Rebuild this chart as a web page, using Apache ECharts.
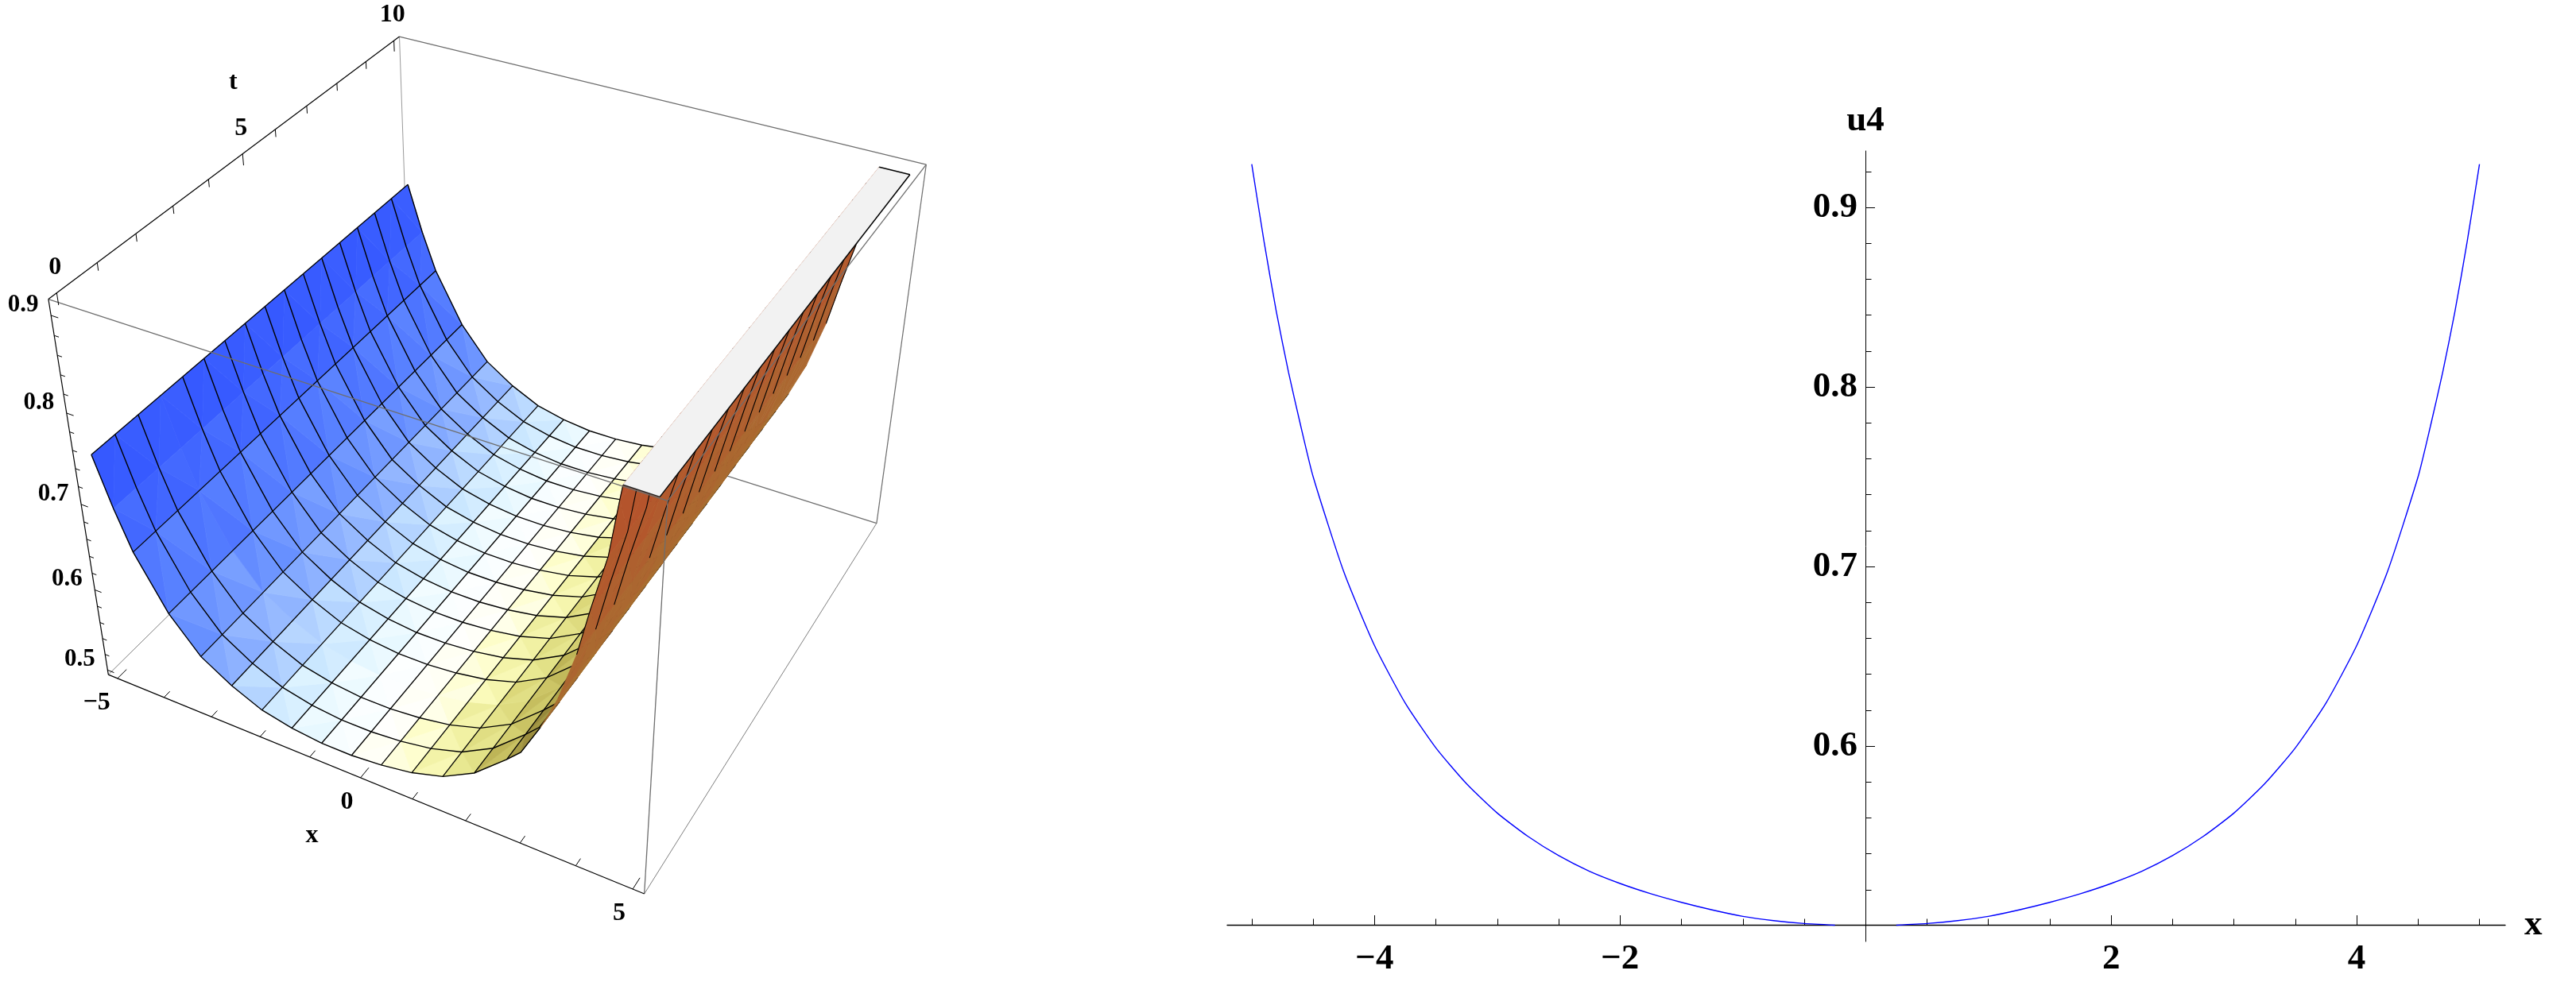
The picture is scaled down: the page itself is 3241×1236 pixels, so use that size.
<!DOCTYPE html>
<html><head><meta charset="utf-8"><style>html,body{margin:0;background:#fff}#c{width:3241px;height:1236px}</style>
<script src="https://cdn.jsdelivr.net/npm/echarts@6/dist/echarts.min.js"></script></head><body><div id="c"></div>
<script>
// ---------- right panel data: u4(x) ----------
const curveX = [-5,-4.9,-4.8,-4.7,-4.6,-4.5,-4.25,-4,-3.75,-3.5,-3.25,-3,-2.75,-2.5,-2.25,-2,-1.75,-1.5,-1.25,-1,-0.75,-0.5,-0.25,null,0.25,0.5,0.75,1,1.25,1.5,1.75,2,2.25,2.5,2.75,3,3.25,3.5,3.75,4,4.25,4.5,4.6,4.7,4.8,4.9,5];
const curveU = [0.924,0.881,0.842,0.808,0.778,0.75,0.697,0.656,0.624,0.599,0.579,0.5627,0.5497,0.539,0.5303,0.5235,0.5178,0.513,0.5088,0.5052,0.5028,0.5012,0.5003,null,0.5003,0.5012,0.5028,0.5052,0.5088,0.513,0.5178,0.5235,0.5303,0.539,0.5497,0.5627,0.579,0.599,0.624,0.656,0.697,0.75,0.778,0.808,0.842,0.881,0.924];
const xMajorTicks = [-4,-2,2,4];
const xMinorTicks = [-5,-4.5,-3.5,-3,-2.5,-1.5,-1,-0.5,0.5,1,1.5,2.5,3,3.5,4.5,5];
const yMajorTicks = [0.6,0.7,0.8,0.9];
const yMinorTicks = [0.52,0.54,0.56,0.58,0.62,0.64,0.66,0.68,0.72,0.74,0.76,0.78,0.82,0.84,0.86,0.88,0.92];

// ---------- left panel data: surface u(x,t), same section at every t ----------
const sectionX = [-5,-4.7,-4.41,-3.82,-3.24,-2.65,-2.06,-1.47,-0.88,-0.29,0.29,0.88,1.47,2.06,2.65,2.9,3.24,3.53,3.82,4.02,4.27,4.41,4.45];
const sectionU = [0.752,0.698,0.654,0.594,0.555,0.533,0.517,0.509,0.505,0.505,0.508,0.514,0.525,0.545,0.577,0.592,0.630,0.670,0.725,0.777,0.836,0.893,0.908];
const meshXFlags = [0,0,1,1,1,1,1,1,1,1,1,1,1,1,1,0,1,0,1,0,0,1,0];
const gridT = [0,0.625,1.25,1.875,2.5,3.125,3.75,4.375,5,5.625,6.25,6.875,7.5,8.125,8.75,9.375,10];
const meshT = [0,0.625,1.25,2.5,3.125,3.75,4.375,5,5.625,6.25,6.875,7.5,8.125,8.75,9.375,10];
const capU = 0.908, capX = [4.45,5];
const frontFaceColors = ['#3558ff','#3c60ff','#4a70ff','#5f88ff','#7ea4ff','#a2c4ff','#c6e4ff','#e2f6ff','#f6fdff','#ffffff','#fffff0','#fdfdc0','#ebeb96','#d8d474','#b8ae50','#8f8036','#8f8036','#8f8036','#8f8036','#8f8036','#8f8036','#8f8036'];
const backFaceColors = ['#b5552c','#b5552c','#b5552c','#b5552c','#b5552c','#b5552c','#b5552c','#b5552c','#b5552c','#b5552c','#b5552c','#b5552c','#b5552c','#a0702c','#a0702c','#a4742e','#a87030','#aa6a30','#ac6430','#b05c2e','#b4562c','#b5522c'];
const boxX=[-5.2,5.2], boxT=[-0.2,10.2], boxU=[0.494,0.916];
const zTicks=[0.5,0.52,0.54,0.56,0.58,0.6,0.62,0.64,0.66,0.68,0.7,0.72,0.74,0.76,0.78,0.8,0.82,0.84,0.86,0.88,0.9];
const zLabels=[0.5,0.6,0.7,0.8,0.9];
const xTicks3d=[-5,-4,-3,-2,-1,0,1,2,3,4,5], xLabels3d=[-5,0,5];
const tTicks3d=[0,1,2,3,4,5,6,7,8,9,10], tLabels3d=[0,5,10];
// camera calibration: screen position of the eight box corners
const cornerPx=[[62,377],[840,630],[501,46],[1166,207],[135,849],[811,1125],[519,473],[1102,659]];

// ---------- projective camera fitted to the box ----------
function solve(A,b){const n=b.length;A=A.map((r,i)=>[...r,b[i]]);for(let i=0;i<n;i++){let p=i;for(let j=i+1;j<n;j++)if(Math.abs(A[j][i])>Math.abs(A[p][i]))p=j;[A[i],A[p]]=[A[p],A[i]];for(let j=0;j<n;j++)if(j!=i){const f=A[j][i]/A[i][i];for(let k=i;k<=n;k++)A[j][k]-=f*A[i][k];}}return A.map((r,i)=>r[n]/r[i]);}
const nrm=(x,t,u)=>[x/5,t/5-1,(u-.7)/.2];
const cam=(function(){const R=[],Y=[];let i=0;
 for(const u of [boxU[1],boxU[0]])for(const t of [boxT[0],boxT[1]])for(const x of [boxX[0],boxX[1]]){const [a,b,c]=nrm(x,t,u),[p,q]=cornerPx[i++];
  R.push([a,b,c,1,0,0,0,0,-p*a,-p*b,-p*c]);Y.push(p);R.push([0,0,0,0,a,b,c,1,-q*a,-q*b,-q*c]);Y.push(q);}
 const T=R[0].map((_,i)=>R.map(r=>r[i]));return solve(T.map(a=>T.map(b=>a.reduce((s,v,i)=>s+v*b[i],0))),T.map(a=>a.reduce((s,v,i)=>s+v*Y[i],0)));})();
function proj(x,t,u){const [a,b,c]=nrm(x,t,u),m=cam,w=m[8]*a+m[9]*b+m[10]*c+1;return[(m[0]*a+m[1]*b+m[2]*c+m[3])/w,(m[4]*a+m[5]*b+m[6]*c+m[7])/w];}

// ---------- primitives for the custom series ----------
const prims=[];
const line=(pts,color,width)=>prims.push({k:'l',pts,color,width});
const poly=(pts,color)=>prims.push({k:'p',pts,color});
const text=(anchor,dx,dy,s,size,align)=>prims.push({k:'t',anchor,dx,dy,s,size,align:align||'center'});
const mix=(a,b,f)=>{const h=c=>[1,3,5].map(i=>parseInt(c.substr(i,2),16));const A=h(a),B=h(b);return 'rgb('+A.map((v,i)=>Math.round(v+(B[i]-v)*f)).join(',')+')';};
const [X0,X1]=boxX,[T0,T1]=boxT,[U0,U1]=boxU;
const GREY='#6e6e6e';
// back edges of the box
line([[X0,T1,U1],[X0,T1,U0]],'#9a9a9a',1);
line([[X0,T0,U0],[X0,T1,U0]],'#808080',1);
line([[X0,T1,U0],[X1,T1,U0]],GREY,1.2);
line([[X1,T0,U0],[X1,T1,U0]],'#808080',1);
line([[X1,T1,U1],[X1,T1,U0]],GREY,1.2);
// surface faces
function cell(i,j){return [[sectionX[i],gridT[j],sectionU[i]],[sectionX[i+1],gridT[j],sectionU[i+1]],[sectionX[i+1],gridT[j+1],sectionU[i+1]],[sectionX[i],gridT[j+1],sectionU[i]]];}
const area=p=>{let s=0;p.forEach((a,i)=>{const A=proj(...a),B=proj(...p[(i+1)%p.length]);s+=A[0]*B[1]-B[0]*A[1];});return s;};
const isBack=sectionX.slice(0,-1).map((_,i)=>area(cell(i,8))>0);
function faces(back){
 for(let i=0;i<sectionX.length-1;i++){ if(isBack[i]!==back) continue;
  const c=back?backFaceColors:frontFaceColors, a=c[i], b=c[Math.min(i+1,c.length-1)];
  for(let j=0;j<gridT.length-1;j++){const q=cell(i,j);
   const f=((i*3+j*5)%4)*0.12;
   const odd=(i+j)%2;
   poly(odd?[q[0],q[1],q[2]]:[q[0],q[1],q[3]],mix(a,b,.15+f));
   poly(odd?[q[0],q[2],q[3]]:[q[1],q[2],q[3]],mix(a,b,.45+f));
  }
 }
 // mesh: section curves (on the outer face only their upper part shows through)
 const from=back?sectionX.indexOf(3.82):0;
 meshT.forEach(t=>{let seg=[];for(let i=from;i<sectionX.length;i++){const inside=(i<sectionX.length-1&&isBack[i]===back)||(i>0&&isBack[i-1]===back);
   if(inside)seg.push([sectionX[i],t,sectionU[i]]);else{if(seg.length>1)line(seg,'#000',back?1.1:1.4);seg=[];}}
  if(seg.length>1)line(seg,'#000',back?1.1:1.4);});
 // mesh: lines along t, and the edge at x=-5
 if(!back) sectionX.forEach((x,i)=>{ if((meshXFlags[i]||i===0)&&i<sectionX.length-1&&!isBack[i]) line([[x,gridT[0],sectionU[i]],[x,gridT[gridT.length-1],sectionU[i]]],'#000',1.3);});
}
faces(false);
faces(true);
// clipped cap of the surface
const capA=[capX[0],gridT[0],capU],capB=[capX[1],gridT[0],capU],capC=[capX[1],10,capU],capD=[capX[0],10,capU];
poly([capA,capB,capC,capD],'#f2f2f2');
line([capA,capB],'#222',1.5);line([capB,capC],'#000',1.5);line([capC,capD],'#000',1.5);
// front edges of the box
line([[X0,T0,U1],[X1,T0,U1]],GREY,1.3);
line([[X1,T0,U1],[X1,T1,U1]],GREY,1.3);
line([[X1,T0,U1],[X1,T0,U0]],GREY,1.3);
line([[X0,T1,U1],[X1,T1,U1]],GREY,1.3);
line([[X0,T0,U1],[X0,T1,U1]],'#000',1.2);
line([[X0,T0,U1],[X0,T0,U0]],'#000',1.2);
line([[X0,T0,U0],[X1,T0,U0]],'#000',1.2);
// ticks and labels
const near=(a,b)=>Math.abs(a-b)<1e-6;
zTicks.forEach(u=>{const M=zLabels.some(v=>near(v,u));line([[X0,T0,u],[X0+(M?0.14:0.09),T0,u]],'#000',1);});
xTicks3d.forEach(x=>{const M=xLabels3d.includes(x);line([[x,T0,U0],[x,T0+(M?0.26:0.17),U0]],'#000',1);});
tTicks3d.forEach(t=>{const M=tLabels3d.includes(t);line([[X0,t,U1],[X0,t,U1-(M?0.012:0.008)]],'#000',1);});
zLabels.forEach(u=>text([X0,T0,u],-35,-13,u.toFixed(1),31));
xLabels3d.forEach(x=>text([x,T0,U0],-9,31,String(x).replace('-','\u2212'),32,'right'));
tLabels3d.forEach(t=>text([X0,t,U1],-2,-32,String(t),32));
text([X0,5,U1],-12,-90,'t',32);
text([0,T0,U0],-61,73,'x',32);

const SERIF='"Liberation Serif","Times New Roman",serif';
const chart=echarts.init(document.getElementById('c'),null,{renderer:'canvas'});
const labelStyle={fontFamily:SERIF,fontWeight:'bold',fontSize:45,color:'#000'};
const pairs=curveX.map((x,i)=>x===null?[null,null]:[x,curveU[i]]);
chart.setOption({
 animation:false,backgroundColor:'#fff',
 grid:[{left:1544,top:190,width:1608,height:995,containLabel:false},{left:0,top:0,right:0,bottom:0}],
 xAxis:[
  {type:'value',gridIndex:0,min:-5.2,max:5.21,position:'bottom',offset:-21,splitLine:{show:false},
   axisLine:{show:true,onZero:false,lineStyle:{color:'#000',width:1.3}},
   axisTick:{show:true,inside:true,length:12,customValues:xMajorTicks,lineStyle:{color:'#000',width:1}},
   axisLabel:{show:true,margin:21,customValues:xMajorTicks,formatter:v=>String(v).replace('-','\u2212'),...labelStyle},
   name:'x',nameLocation:'end',nameGap:24,nameTextStyle:{...labelStyle,padding:[20,0,0,0]}},
  {type:'value',gridIndex:0,min:-5.2,max:5.21,position:'bottom',offset:-21,splitLine:{show:false},
   axisLine:{show:false,onZero:false},axisLabel:{show:false},
   axisTick:{show:true,inside:true,length:7.5,customValues:xMinorTicks,lineStyle:{color:'#000',width:1}}},
  {type:'value',gridIndex:1,min:0,max:3241,show:false}
 ],
 yAxis:[
  {type:'value',gridIndex:0,min:0.4912,max:0.9314,position:'left',offset:-803,splitLine:{show:false},
   axisLine:{show:true,onZero:false,lineStyle:{color:'#000',width:1}},
   axisTick:{show:true,inside:true,length:12,customValues:yMajorTicks,lineStyle:{color:'#000',width:1}},
   axisLabel:{show:true,margin:10,customValues:yMajorTicks,formatter:v=>v.toFixed(1),...labelStyle},
   name:'u4',nameLocation:'end',nameGap:15,nameTextStyle:labelStyle},
  {type:'value',gridIndex:0,min:0.4912,max:0.9314,position:'left',offset:-803,splitLine:{show:false},
   axisLine:{show:false,onZero:false},axisLabel:{show:false},
   axisTick:{show:true,inside:true,length:7.5,customValues:yMinorTicks,lineStyle:{color:'#000',width:1}}},
  {type:'value',gridIndex:1,min:0,max:1236,inverse:true,show:false}
 ],
 series:[
  {type:'line',name:'u4',xAxisIndex:0,yAxisIndex:0,data:pairs,connectNulls:false,symbol:'none',smooth:0.2,lineStyle:{color:'#0000ff',width:1.4},silent:true},
  {type:'custom',name:'u(x,t)',xAxisIndex:2,yAxisIndex:2,coordinateSystem:'cartesian2d',clip:false,silent:true,progressive:0,
   data:prims.map((_,i)=>[i,0]),encode:{x:0,y:1},
   renderItem:(params,api)=>{const p=prims[params.dataIndex];
    if(p.k==='t'){const a=api.coord(proj(...p.anchor));return {type:'text',style:{text:p.s,x:a[0]+p.dx,y:a[1]+p.dy,fill:'#000',font:'bold '+p.size+'px '+SERIF,textAlign:p.align,textVerticalAlign:'middle'}};}
    const pts=p.pts.map(a=>api.coord(proj(...a)));
    if(p.k==='p')return {type:'polygon',shape:{points:pts},style:{fill:p.color,stroke:p.color,lineWidth:0.7}};
    return {type:'polyline',shape:{points:pts},style:{fill:null,stroke:p.color,lineWidth:p.width}};}}
 ]
});
</script></body></html>
